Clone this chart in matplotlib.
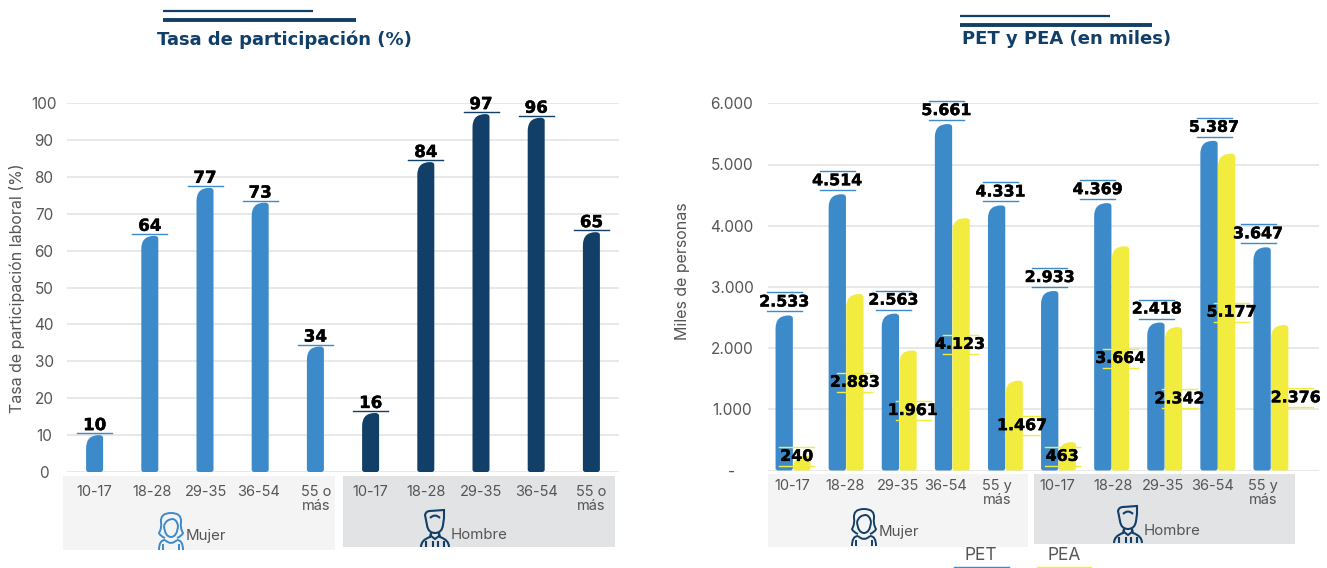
import numpy as np
import matplotlib.pyplot as plt
import matplotlib.patheffects as pe
from matplotlib.patches import PathPatch, Rectangle
from matplotlib.path import Path

W, H = 1327, 568
SANS = ['Inter', 'DejaVu Sans']
BLUE = '#3d8acb'
NAVY = '#123f68'
YELLOW = '#f2ec3e'
GRID = '#e6e6e6'
GREY = '#555555'

# ================= Data =================
edades_tasa = ['10-17', '18-28', '29-35', '36-54', '55 o\nmás'] * 2
tasa = [10, 64, 77, 73, 34, 16, 84, 97, 96, 65]

edades_pet = ['10-17', '18-28', '29-35', '36-54', '55 y\nmás'] * 2
pet = [2533, 4514, 2563, 5661, 4331, 2933, 4369, 2418, 5387, 3647]
pea = [240, 2883, 1961, 4123, 1467, 463, 3664, 2342, 5177, 2376]

# label nudges in pixels, some labels sit off-centre
tick_dx_tasa = [0, 2, 1, -2, 1, 0, 0, 0, 0, 0]
tick_dx_pet = [-1, -1, -1, -7, -8, -1, 1, -2, -5, -8]
pet_dx = [0, 0, 3, 3, 4, 0, -5, 1, 5, -4]
pea_dx = [-5, 0, 5, -1, 8, -5, 0, 6, 5, 16]

HEAVY = [pe.withStroke(linewidth=0.3, foreground='black')]


def miles(v):
    return f'{v:,}'.replace(',', '.')


def axes_px(fig, left, top, right, bottom):
    return fig.add_axes([left / W, 1 - bottom / H, (right - left) / W, (bottom - top) / H])


def rounded_bar(ax, x, h, w, color, ppx, ppy):
    # one big corner top-left, small ones elsewhere
    x0, x1 = x - w / 2, x + w / 2
    rl, rr, rb = 13 / ppx, 4 / ppx, 2.5 / ppx
    yl, yr, yb = 13 / ppy, 3 / ppy, 2.5 / ppy
    yl = min(yl, h)
    yr = min(yr, h)
    yb = min(yb, h - yr)
    verts = [(x0 + rb, 0), (x1 - rb, 0), (x1, 0), (x1, yb), (x1, h - yr), (x1, h), (x1 - rr, h),
             (x0 + rl, h), (x0, h), (x0, h - yl), (x0, yb), (x0, 0), (x0 + rb, 0)]
    codes = [Path.MOVETO, Path.LINETO, Path.CURVE3, Path.CURVE3, Path.LINETO, Path.CURVE3, Path.CURVE3,
             Path.LINETO, Path.CURVE3, Path.CURVE3, Path.LINETO, Path.CURVE3, Path.CURVE3]
    ax.add_patch(PathPatch(Path(verts, codes), facecolor=color, edgecolor='none', zorder=3, clip_on=False))


def style_axes(ax, ylim, yticks, ylabels, ypad):
    ax.set_ylim(*ylim)
    ax.set_yticks(yticks, ylabels)
    ax.grid(True, axis='y', color=GRID, linewidth=1.3)
    ax.set_axisbelow(True)
    ax.tick_params(axis='both', length=0)
    ax.tick_params(axis='y', labelsize=11, labelcolor=GREY, pad=ypad)
    ax.tick_params(axis='x', labelsize=10.5, labelcolor=GREY)
    for lab in ax.get_yticklabels():
        lab.set_ha('center')
    for s in ax.spines.values():
        s.set_visible(False)
    ax.patch.set_alpha(0)


def woman(ov, cx, top, color, s=1.0):
    hair = [(-6, 25), (-11, 23), (-12, 20), (-9, 15), (-10, 9), (-11, 0), (0, 0), (11, 0), (10, 9), (9, 15),
            (12, 20), (11, 23), (6, 25)]
    fringe = [(-7, 13), (-5, 6), (2, 6), (6, 7), (7, 13)]
    face = [(-7, 13), (-6, 24), (0, 24), (6, 24), (7, 13)]
    neck = [(-6, 27), (0, 33), (6, 27)]
    arm_l = [(-12, 37), (-12, 27), (-6, 27)]
    arm_r = [(12, 37), (12, 27), (6, 27)]
    curve = [Path.MOVETO, Path.CURVE3, Path.CURVE3]
    for pts, codes in [(hair, [Path.MOVETO] + [Path.CURVE3] * 12), (fringe, [Path.MOVETO] + [Path.CURVE3] * 4),
                       (face, [Path.MOVETO] + [Path.CURVE3] * 4), (neck, curve), (arm_l, curve), (arm_r, curve),
                       ([(-8, 31), (-8, 37)], None), ([(8, 31), (8, 37)], None)]:
        v = [(cx + px * s, top + py * s) for px, py in pts]
        ov.add_patch(PathPatch(Path(v, codes), facecolor='none', edgecolor=color, linewidth=1.4))


def man(ov, cx, top, color, s=1.0):
    head = [(-8, 15), (-10, 5), (-9, 1), (-5, 1), (9, 0), (9, 8), (8, 15), (7, 23), (0, 23), (-7, 23), (-8, 15)]
    head_codes = [Path.MOVETO, Path.LINETO, Path.CURVE3, Path.CURVE3, Path.LINETO, Path.LINETO,
                  Path.LINETO, Path.CURVE3, Path.CURVE3, Path.CURVE3, Path.CURVE3]
    brow = [(-5, 8), (0, 3), (5, 8)]
    body = [(-14, 37), (-14, 30), (-5, 27), (-4, 23), (-4, 26), (0, 29), (4, 26), (4, 23), (5, 27), (14, 30), (14, 37)]
    body_codes = [Path.MOVETO, Path.CURVE3, Path.CURVE3, Path.LINETO, Path.LINETO, Path.LINETO, Path.LINETO,
                  Path.LINETO, Path.LINETO, Path.CURVE3, Path.CURVE3]
    lines = [(head, head_codes), (brow, [Path.MOVETO, Path.CURVE3, Path.CURVE3]), (body, body_codes)]
    for dx in (-9, -2.5, 2.5, 9):
        lines.append(([(dx, 31), (dx, 37)], None))
    for pts, codes in lines:
        v = [(cx + px * s, top + py * s) for px, py in pts]
        ov.add_patch(PathPatch(Path(v, codes), facecolor='none', edgecolor=color, linewidth=1.5))


fig = plt.figure(figsize=(W / 100, H / 100), dpi=100)
plt.rcParams['font.family'] = SANS

# ================= Overlay: title rules, group panels, icons =================
ov = fig.add_axes([0, 0, 1, 1])
ov.set_xlim(0, W)
ov.set_ylim(H, 0)
ov.axis('off')

for x0, x1, y0, y1, col in [(63, 335, 476, 550, '#f4f4f4'), (343, 615, 476, 547, '#e2e3e5'),
                            (768, 1028, 474, 547, '#f4f4f4'), (1034, 1295, 474, 544, '#e2e3e5')]:
    ov.add_patch(Rectangle((x0, y0), x1 - x0, y1 - y0, facecolor=col, edgecolor='none'))

for x0, x1, x2, y1, y2, tx, ty, title in [(163, 313, 356, 11, 20, 284, 40, 'Tasa de participación (%)'),
                                          (960, 1110, 1152, 16, 25, 1067, 39, 'PET y PEA (en miles)')]:
    ov.plot([x0, x1], [y1, y1], color=NAVY, lw=1.6, solid_capstyle='butt')
    ov.plot([x0, x2], [y2, y2], color=NAVY, lw=2.8, solid_capstyle='butt')
    ov.text(tx, ty, title, color=NAVY, fontsize=13, fontweight='bold', ha='center', va='center',
            family=['DejaVu Sans'])

woman(ov, 171, 513, BLUE)
man(ov, 435, 510, NAVY)
woman(ov, 864, 509, NAVY)
man(ov, 1128, 506, NAVY)
for x, y, txt in [(186, 536, 'Mujer'), (451, 535, 'Hombre'), (879, 532, 'Mujer'), (1144, 531, 'Hombre')]:
    ov.text(x, y, txt, color=GREY, fontsize=10.8, ha='left', va='center')

ov.text(981, 555, 'PET', color=GREY, fontsize=12.5, ha='center', va='center')
ov.text(1064, 555, 'PEA', color=GREY, fontsize=12.5, ha='center', va='center')
ov.plot([954, 1009], [567, 567], color=BLUE, lw=1)
ov.plot([1037, 1091], [567, 567], color=YELLOW, lw=1)

ov.text(17, 288, 'Tasa de participación laboral (%)', color=GREY, fontsize=11.5, rotation=90, ha='center', va='center')
ov.text(682, 271, 'Miles de personas', color=GREY, fontsize=11.5, rotation=90, ha='center', va='center')

# ================= Left chart: participation rate =================
ax1 = axes_px(fig, 67, 103, 619, 472)
x1 = np.arange(len(tasa))
ax1.set_xlim(-0.5, 9.5)
style_axes(ax1, (0, 100), np.arange(0, 101, 10), [str(v) for v in range(0, 101, 10)], 16.5)
ppx1, ppy1 = 55.2, 3.69
ax1.set_xticks(x1 + np.array(tick_dx_tasa) / ppx1, edades_tasa)
ax1.tick_params(axis='x', pad=9)
for lab in ax1.get_xticklabels():
    lab.set_linespacing(1.05)
for i, v in enumerate(tasa):
    col = BLUE if i < 5 else NAVY
    rounded_bar(ax1, x1[i], v, 17 / ppx1, col, ppx1, ppy1)
    y_line = v + 2 / ppy1
    ax1.plot([x1[i] - 17.5 / ppx1, x1[i] + 17.5 / ppx1], [y_line, y_line], color=col, lw=1, zorder=4, clip_on=False)
    ax1.text(x1[i], y_line - 1 / ppy1, str(v), color='black', fontsize=12, fontweight='bold', ha='center',
             va='bottom', zorder=5, family=['DejaVu Sans'], path_effects=HEAVY)

# ================= Right chart: PET and PEA =================
ax2 = axes_px(fig, 768, 103.3, 1319, 470.5)
ppx2, ppy2 = 53.1, 61.2 / 1000
x2 = np.arange(len(pet))
ax2.set_xlim(-25 / ppx2, 526 / ppx2)
yt = np.arange(0, 6001, 1000)
style_axes(ax2, (0, 6000), yt, ['-'] + [miles(v) for v in yt[1:]], 26)
ax2.set_xticks(x2 + np.array(tick_dx_pet) / ppx2, edades_pet)
ax2.tick_params(axis='x', pad=6)
for lab in ax2.get_xticklabels():
    lab.set_linespacing(1.05)
off = 8.8 / ppx2
bw = 17.3 / ppx2


def boxed_label(ax, x, y, v, line_col):
    # value sits between two short rules
    half = 17.5 / ppx2
    for dy in (-9.5, 9.5):
        ax.plot([x - half, x + half], [y + dy / ppy2, y + dy / ppy2], color=line_col, lw=1, zorder=5, clip_on=False)
    ax.text(x, y, miles(v), color='black', fontsize=11.4, fontweight='bold', ha='center', va='center',
            zorder=6, family=['DejaVu Sans'], clip_on=False, path_effects=HEAVY)


for i in range(len(pet)):
    rounded_bar(ax2, x2[i] - off, pet[i], bw, BLUE, ppx2, ppy2)
    rounded_bar(ax2, x2[i] + off, pea[i], bw, YELLOW, ppx2, ppy2)
for i in range(len(pet)):
    boxed_label(ax2, x2[i] - off + pet_dx[i] / ppx2, pet[i] + 13.5 / ppy2, pet[i], BLUE)
    boxed_label(ax2, x2[i] + off + pea_dx[i] / ppx2, max(pea[i] / 2, 230), pea[i], YELLOW)

fig.savefig('out.png', dpi=100)
plt.close(fig)
